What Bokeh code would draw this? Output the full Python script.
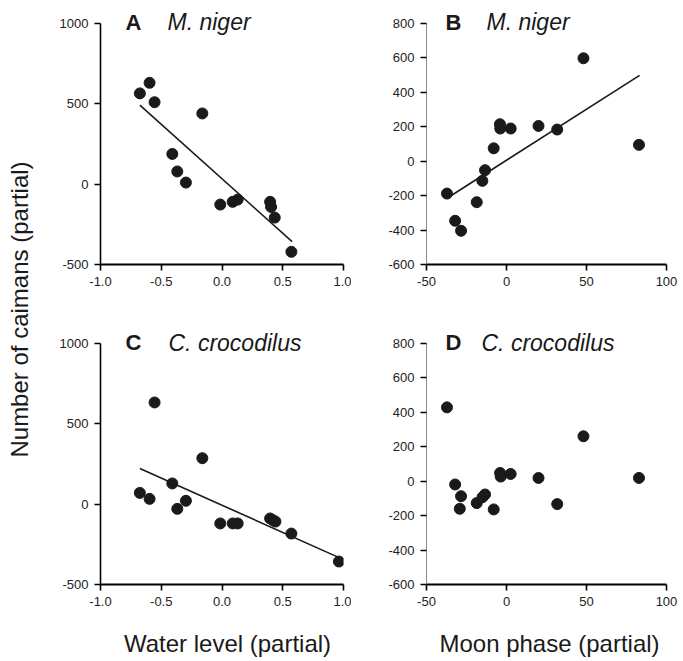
from math import pi
from bokeh.plotting import figure
from bokeh.models import Range1d, FixedTicker, Label
from bokeh.layouts import row, column
from bokeh.embed import file_html
from bokeh.resources import INLINE

# ---------------- data ----------------
water_ticks = [-1.0, -0.5, 0.0, 0.5, 1.0]
water_tick_labels = ["-1.0", "-0.5", "0.0", "0.5", "1.0"]
moon_ticks = [-50, 0, 50, 100]
moon_tick_labels = ["-50", "0", "50", "100"]
caiman_ticks_left = [-500, 0, 500, 1000]
caiman_tick_labels_left = ["-500", "0", "500", "1000"]
caiman_ticks_right = [-600, -400, -200, 0, 200, 400, 600, 800]
caiman_tick_labels_right = ["-600", "-400", "-200", "0", "200", "400", "600", "800"]

# Panel A: M. niger vs water level
a_water = [-0.676, -0.596, -0.555, -0.162, -0.409, -0.368, -0.297, -0.014, 0.088, 0.129, 0.396, 0.404, 0.434, 0.571]
a_caimans = [565, 631, 510, 440, 188, 79, 10, -127, -110, -96, -110, -142, -208, -421]
a_fit_x = [-0.676, 0.577]
a_fit_y = [492, -358]

# Panel B: M. niger vs moon phase
b_moon = [-37.2, -32.1, -28.4, -18.6, -15.1, -13.4, -8.0, -4.1, -3.9, 2.6, 20.0, 31.7, 48.1, 82.8]
b_caimans = [-188, -346, -404, -238, -114, -52, 75, 215, 190, 190, 205, 184, 598, 95]
b_fit_x = [-37.2, 83.2]
b_fit_y = [-215, 499]

# Panel C: C. crocodilus vs water level
c_water = [-0.676, -0.596, -0.555, -0.162, -0.409, -0.368, -0.297, -0.014, 0.088, 0.129, 0.396, 0.42, 0.44, 0.571, 0.962]
c_caimans = [70, 33, 633, 286, 129, -29, 21, -120, -120, -120, -89, -100, -108, -183, -357]
c_fit_x = [-0.676, 0.95]
c_fit_y = [222, -328]

# Panel D: C. crocodilus vs moon phase
d_moon = [-37.2, -32.1, -28.4, -29.2, -18.6, -15.0, -13.4, -8.0, -4.0, -3.6, 2.6, 20.0, 31.7, 48.1, 82.8]
d_caimans = [429, -19, -87, -160, -127, -93, -77, -164, 48, 27, 42, 19, -133, 261, 19]

FONT = "Liberation Sans"
INK = "#1a1a1a"

FH = 241          # height of the data area (axis extent) in px
EXT = 15          # extra frame space above the axis top, for the panel titles
FW_L = 243
FW_R = 240
LIFT = 7          # correction for the way labels sit on their anchor


def make_panel(xr, yr, xticks, xlabels, yticks, ylabels, fw, bl, br, bt, bb, light_yaxis):
    ymin, ymax = yr
    ytop = ymax + EXT * (ymax - ymin) / FH
    p = figure(frame_width=fw, frame_height=FH + EXT,
               x_range=Range1d(*xr), y_range=Range1d(ymin, ytop),
               min_border_left=bl, min_border_right=br,
               min_border_top=bt, min_border_bottom=bb,
               output_backend="svg", toolbar_location=None)
    p.grid.visible = False
    p.outline_line_color = None
    p.background_fill_color = "white"
    p.border_fill_color = "white"
    p.xaxis.ticker = FixedTicker(ticks=xticks)
    p.xaxis.major_label_overrides = {t: l for t, l in zip(xticks, xlabels)}
    p.yaxis.ticker = FixedTicker(ticks=yticks)
    p.yaxis.major_label_overrides = {t: l for t, l in zip(yticks, ylabels)}
    p.yaxis.bounds = (ymin, ymax)
    for ax in (p.xaxis, p.yaxis):
        ax.major_tick_out = 6
        ax.major_tick_in = 0
        ax.minor_tick_line_color = None
        ax.major_tick_line_width = 1.6
        ax.major_tick_line_color = "black"
        ax.major_label_text_font = FONT
        ax.major_label_text_font_size = "13px"
        ax.major_label_text_color = "#222222"
        ax.major_label_standoff = 6
    p.xaxis.axis_line_color = "black"
    p.xaxis.axis_line_width = 1.8
    if light_yaxis:
        p.yaxis.axis_line_color = "#8a8a8a"
        p.yaxis.axis_line_width = 1.0
    else:
        p.yaxis.axis_line_color = "black"
        p.yaxis.axis_line_width = 1.6
    return p


def dx(p, fw, off):
    r = p.x_range
    return r.start + off * (r.end - r.start) / fw


def add_title(p, fw, yr, letter, species, off_letter, off_species, off_base):
    ymin, ymax = yr
    y = ymax - (off_base - LIFT) * (ymax - ymin) / FH
    p.add_layout(Label(x=dx(p, fw, off_letter), y=y, text=letter, text_font=FONT,
                       text_font_size="22px", text_font_style="bold", text_color=INK,
                       text_baseline="alphabetic"))
    p.add_layout(Label(x=dx(p, fw, off_species), y=y, text=species, text_font=FONT,
                       text_font_size="23px", text_font_style="italic", text_color=INK,
                       text_baseline="alphabetic"))


yr_left = (-500, 1000)
yr_right = (-600, 800)

W_YLAB = 38
# row 1: frame top at page 8 -> axis top at page 23
pA = make_panel((-1, 1), yr_left, water_ticks, water_tick_labels, caiman_ticks_left,
                caiman_tick_labels_left, FW_L, 62, 8, 8, 40, False)
pB = make_panel((-50, 100), yr_right, moon_ticks, moon_tick_labels, caiman_ticks_right,
                caiman_tick_labels_right, FW_R, 75, 14, 8, 40, True)
# row 2: axis top at page 343
pC = make_panel((-1, 1), yr_left, water_ticks, water_tick_labels, caiman_ticks_left,
                caiman_tick_labels_left, FW_L, 62, 8, 24, 30, False)
pD = make_panel((-50, 100), yr_right, moon_ticks, moon_tick_labels, caiman_ticks_right,
                caiman_tick_labels_right, FW_R, 75, 14, 24, 30, True)

pA.line(a_fit_x, a_fit_y, line_width=1.6, line_color=INK)
pA.scatter(a_water, a_caimans, size=11, fill_color=INK, line_color=INK)
pB.line(b_fit_x, b_fit_y, line_width=1.6, line_color=INK)
pB.scatter(b_moon, b_caimans, size=11, fill_color=INK, line_color=INK)
pC.line(c_fit_x, c_fit_y, line_width=1.6, line_color=INK)
pC.scatter(c_water, c_caimans, size=11, fill_color=INK, line_color=INK)
pD.scatter(d_moon, d_caimans, size=11, fill_color=INK, line_color=INK)

add_title(pA, FW_L, yr_left, "A", "M. niger", 25, 67, 5.5)
add_title(pB, FW_R, yr_right, "B", "M. niger", 19, 60, 5.5)
add_title(pC, FW_L, yr_left, "C", "C. crocodilus", 25, 68, 6.3)
add_title(pD, FW_R, yr_right, "D", "C. crocodilus", 19, 55, 6.3)

H_ROW1 = 8 + FH + EXT + 40
H_ROW2 = 24 + FH + EXT + 30
H_XLAB = 45
W_MAIN = (62 + FW_L + 8) + (75 + FW_R + 14)

# bottom axis titles (separate strip under the lower panels)
pX = figure(frame_width=W_MAIN, frame_height=H_XLAB, x_range=Range1d(0, W_MAIN),
            y_range=Range1d(0, H_XLAB), min_border=0, x_axis_location=None,
            y_axis_location=None, output_backend="svg", toolbar_location=None)
pX.grid.visible = False
pX.outline_line_color = None
pX.add_layout(Label(x=62 + 127, y=9 + LIFT, text="Water level (partial)",
                    text_font=FONT, text_font_size="24px", text_color=INK,
                    text_align="center", text_baseline="alphabetic"))
pX.add_layout(Label(x=62 + FW_L + 8 + 75 + 123, y=9 + LIFT, text="Moon phase (partial)",
                    text_font=FONT, text_font_size="24px", text_color=INK,
                    text_align="center", text_baseline="alphabetic"))

# shared y axis title
H_TOTAL = H_ROW1 + H_ROW2 + H_XLAB
pL = figure(frame_width=W_YLAB, frame_height=H_TOTAL, x_range=Range1d(0, W_YLAB),
            y_range=Range1d(0, H_TOTAL), min_border=0, x_axis_location=None,
            y_axis_location=None, output_backend="svg", toolbar_location=None)
pL.grid.visible = False
pL.outline_line_color = None
pL.add_layout(Label(x=19, y=H_TOTAL - 309, text="Number of caimans (partial)", angle=pi / 2,
                    text_font=FONT, text_font_size="24px", text_color=INK,
                    text_align="center", text_baseline="middle"))

layout = row(pL, column(row(pA, pB), row(pC, pD), pX))

open("out.html", "w").write(file_html(layout, INLINE))
